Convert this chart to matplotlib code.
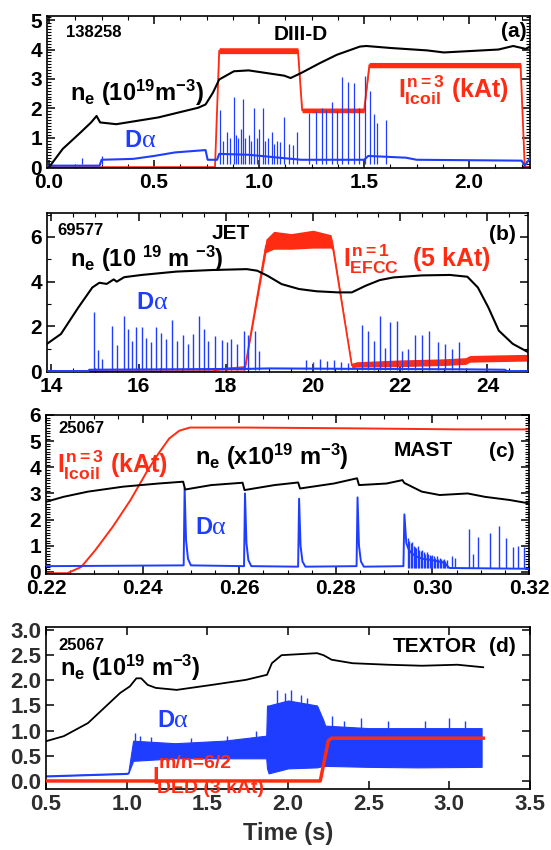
import matplotlib
matplotlib.use("Agg")
import matplotlib.pyplot as plt
from matplotlib.ticker import MultipleLocator

RED = "#ff2b12"
BLUE = "#1f3dff"
GREY = "#2e2e2e"

# ---- (a) DIII-D 138258 ----
a_ne_t = [0.0, 0.065, 0.15, 0.2, 0.226, 0.243, 0.32, 0.52, 0.71, 0.745, 0.78, 0.81, 0.88, 0.95,
          1.12, 1.15, 1.2, 1.29, 1.37, 1.48, 1.51, 1.63, 1.8, 1.88, 2.14, 2.21, 2.27, 2.29]
a_ne = [0.0, 0.62, 1.18, 1.52, 1.74, 1.52, 1.46, 1.69, 2.02, 2.13, 2.53, 2.98, 3.26, 3.29,
        3.11, 3.03, 3.2, 3.54, 3.82, 4.1, 4.12, 4.05, 3.97, 3.9, 4.0, 4.12, 4.02, 4.1]
a_coil_t = [-0.01, 0.79, 0.81, 1.185, 1.205, 1.5, 1.525, 2.245, 2.265, 2.29]
a_coil = [0.0, 0.0, 3.96, 3.96, 1.93, 1.93, 3.47, 3.47, 0.0, 0.0]
a_coil_w = [0.0, 0.0, 0.1, 0.1, 0.08, 0.08, 0.09, 0.09, 0.0, 0.0]
a_da_t = [-0.01, 0.24, 0.25, 0.4, 0.5, 0.6, 0.745, 0.755, 0.8, 0.81, 0.95, 1.2, 1.5, 1.52,
          1.7, 1.75, 2.25, 2.265, 2.29]
a_da = [0.05, 0.05, 0.25, 0.28, 0.38, 0.5, 0.58, 0.25, 0.25, 0.45, 0.42, 0.25, 0.25, 0.38,
        0.32, 0.25, 0.22, 0.05, 0.3]
a_elm_t = [0.155, 0.25, 0.813, 0.83, 0.847, 0.86, 0.88, 0.89, 0.90, 0.912, 0.923, 0.935,
           0.95, 0.962, 0.975, 0.988, 1.0, 1.017, 1.03, 1.04, 1.06, 1.072, 1.085, 1.10,
           1.12, 1.14, 1.16, 1.18, 1.238, 1.27, 1.298, 1.32, 1.349, 1.37, 1.396, 1.425,
           1.451, 1.476, 1.502, 1.527, 1.545, 1.56, 1.604]
a_elm_h = [0.32, 0.38, 1.95, 0.9, 1.2, 1.0, 2.4, 1.1, 1.0, 1.3, 2.3, 1.0,
           1.1, 0.9, 2.0, 1.0, 1.3, 2.0, 0.9, 1.0, 1.2, 0.8, 0.9, 0.85,
           1.7, 0.8, 0.75, 1.2, 1.85, 1.9, 2.0, 1.95, 2.2, 1.9, 3.05, 2.9,
           2.85, 2.0, 3.1, 2.6, 1.8, 1.5, 1.6]

# ---- (b) JET 69577 ----
b_ne_t = [13.9, 14.22, 14.62, 14.94, 15.1, 15.27, 15.43, 15.5, 15.67, 16.07, 16.87, 17.68,
          18.48, 18.72, 18.96, 19.28, 19.68, 20.08, 20.57, 20.89, 21.21, 21.53, 21.85, 22.5,
          23.14, 23.54, 23.78, 24.02, 24.26, 24.58, 24.93]
b_ne = [1.22, 1.66, 2.85, 3.74, 3.95, 3.9, 4.1, 4.0, 4.2, 4.3, 4.45, 4.52,
        4.56, 4.49, 4.26, 3.89, 3.67, 3.57, 3.52, 3.52, 3.82, 4.07, 4.19, 4.28,
        4.3, 4.22, 3.74, 2.85, 1.81, 1.22, 0.85]
b_efcc_t = [13.9, 17.7, 17.9, 18.44, 18.92, 19.1, 19.5, 20.0, 20.41, 20.45, 20.89, 21.0,
            22.0, 23.0, 23.5, 23.6, 24.93]
b_efcc = [0.0, 0.0, 0.1, 0.15, 5.6, 5.85, 5.8, 5.9, 5.8, 5.6, 0.25, 0.3,
          0.35, 0.4, 0.45, 0.55, 0.6]
b_efcc_w = [0.0, 0.0, 0.05, 0.1, 0.3, 0.4, 0.35, 0.4, 0.3, 0.2, 0.1, 0.12,
            0.15, 0.15, 0.15, 0.15, 0.15]
b_da_t = [13.9, 14.85, 14.87, 18.5, 19.0, 21.0, 23.4, 24.4, 24.45, 24.93]
b_da = [0.0, 0.0, 0.06, 0.1, 0.12, 0.1, 0.08, 0.06, 0.0, 0.0]
b_elm_t = [14.98, 15.08, 15.16, 15.39, 15.51, 15.67, 15.76, 15.84, 15.94, 16.07,
           16.17, 16.29, 16.39, 16.51, 16.63, 16.76, 16.87, 17.03, 17.14, 17.25,
           17.39, 17.5, 17.59, 17.76, 17.92, 18.02, 18.13, 18.25, 18.41, 18.52,
           18.66, 18.76, 19.84, 20.0, 20.17, 20.33, 20.49, 20.65, 20.81,
           21.13, 21.25, 21.41, 21.53, 21.65, 21.77, 21.93, 22.05, 22.17, 22.33,
           22.49, 22.67, 22.86, 23.02, 23.18, 23.34]
b_elm_h = [2.65, 0.95, 0.55, 2.0, 1.15, 2.45, 1.9, 1.35, 1.95, 1.95,
           1.5, 1.3, 1.95, 1.7, 1.45, 2.3, 1.35, 1.6, 1.2, 1.65,
           2.45, 1.9, 1.35, 1.55, 1.4, 1.3, 1.45, 1.2, 1.8, 1.6,
           1.8, 0.9, 0.5, 0.4, 0.55, 0.45, 0.5, 0.4, 0.35,
           2.05, 1.8, 1.35, 2.45, 1.05, 2.2, 2.25, 0.9, 1.0, 1.6,
           1.6, 1.8, 1.3, 1.2, 1.0, 1.3]

# ---- (c) MAST 25067 ----
c_ne_t = [0.22, 0.2236, 0.2287, 0.236, 0.2433, 0.2484, 0.2488, 0.2542, 0.2607, 0.2611,
          0.2673, 0.2722, 0.2726, 0.2796, 0.2844, 0.2848, 0.2905, 0.2938, 0.2942, 0.2978,
          0.3015, 0.3073, 0.3109, 0.316, 0.32]
c_ne = [2.68, 2.87, 3.07, 3.26, 3.38, 3.45, 3.15, 3.32, 3.41, 3.13,
        3.32, 3.42, 3.19, 3.38, 3.58, 3.32, 3.38, 3.51, 3.4, 3.07,
        2.94, 3.0, 2.87, 2.75, 2.62]
c_coil_t = [0.22, 0.2244, 0.2273, 0.2302, 0.2338, 0.2375, 0.2411, 0.2433, 0.2455, 0.2476,
            0.2498, 0.2615, 0.2833, 0.3051, 0.32]
c_coil = [-0.05, -0.05, 0.19, 0.83, 1.72, 2.75, 3.9, 4.53, 5.1, 5.4,
          5.52, 5.52, 5.49, 5.45, 5.45]
c_da_t = [0.22, 0.2485, 0.2487, 0.249, 0.2494, 0.25, 0.261, 0.2612, 0.2615, 0.2619, 0.2625,
          0.2722, 0.2724, 0.2727, 0.2731, 0.2737, 0.2843, 0.2845, 0.2848, 0.2852, 0.2858,
          0.294, 0.2942, 0.2946, 0.295, 0.2955, 0.2965, 0.298, 0.3, 0.3025, 0.3035, 0.32]
c_da = [0.22, 0.25, 3.2, 1.2, 0.5, 0.25, 0.22, 3.0, 1.1, 0.45, 0.22,
        0.2, 2.8, 1.0, 0.4, 0.2, 0.22, 2.85, 1.0, 0.4, 0.2,
        0.22, 2.2, 1.1, 0.9, 0.75, 0.6, 0.5, 0.45, 0.35, 0.15, 0.12]
c_burst_t = [0.2949, 0.2952, 0.2955, 0.2958, 0.2961, 0.2964, 0.2967, 0.297, 0.2973, 0.2976,
             0.2979, 0.2982, 0.2985, 0.2988, 0.2991, 0.2994, 0.2997, 0.3, 0.3003, 0.3006,
             0.3009, 0.3012, 0.3015, 0.3018, 0.3021, 0.3024, 0.3027, 0.303,
             0.304, 0.3047, 0.3076, 0.3084, 0.3095, 0.312, 0.3138, 0.3153, 0.3167, 0.3178,
             0.3189]
c_burst_h = [1.3, 1.2, 1.1, 1.15, 1.0, 0.95, 0.9, 1.0, 0.85, 0.8,
             0.85, 0.75, 0.7, 0.75, 0.7, 0.65, 0.6, 0.65, 0.6, 0.55,
             0.6, 0.5, 0.55, 0.5, 0.45, 0.5, 0.4, 0.45,
             0.6, 0.55, 1.65, 0.7, 1.35, 1.5, 1.75, 1.3, 0.95, 1.0,
             0.95]

# ---- (d) TEXTOR 25067 ----
d_ne_t = [0.5, 0.61, 0.76, 0.87, 0.96, 1.02, 1.06, 1.09, 1.13, 1.18, 1.31, 1.53, 1.74,
          1.87, 1.9, 1.96, 2.18, 2.22, 2.27, 2.4, 2.62, 2.83, 3.05, 3.21]
d_ne = [0.79, 0.89, 1.15, 1.48, 1.75, 1.88, 2.04, 2.04, 1.91, 1.85, 1.81, 1.91, 2.01,
        2.11, 2.34, 2.5, 2.54, 2.5, 2.41, 2.34, 2.31, 2.29, 2.31, 2.26]
d_da_t = [0.5, 1.0, 1.01, 1.04, 1.3, 1.6, 1.865, 1.87, 1.88, 2.0, 2.18, 2.22, 2.23, 2.5,
          2.8, 3.2]
d_da_lo = [0.09, 0.14, 0.15, 0.4, 0.45, 0.45, 0.45, 0.25, 0.15, 0.25, 0.27, 0.3, 0.3,
           0.28, 0.27, 0.28]
d_da_hi = [0.11, 0.16, 0.17, 0.8, 0.75, 0.8, 0.9, 1.5, 1.5, 1.6, 1.5, 1.2, 1.1, 1.05,
           1.05, 1.05]
d_spk_t = [1.05, 1.08, 1.15, 1.4, 1.62, 1.8, 1.93, 1.98, 2.02, 2.08, 2.12, 2.27, 2.35,
           2.45, 2.62, 2.85, 3.0, 3.1]
d_spk_h = [0.95, 0.9, 0.88, 0.85, 0.9, 1.0, 1.8, 1.75, 1.8, 1.7, 1.65, 1.3, 1.2,
           1.25, 1.2, 1.2, 1.25, 1.2]
d_ded_t = [0.5, 2.2, 2.25, 2.27, 3.21]
d_ded = [0.0, 0.0, 0.8, 0.85, 0.85]

plt.rcParams["font.family"] = ["Liberation Sans", "DejaVu Sans"]
plt.rcParams["font.weight"] = "bold"
plt.rcParams["mathtext.fontset"] = "custom"
for key in ["rm", "it", "bf", "sf"]:
    plt.rcParams["mathtext." + key] = "Liberation Sans:bold"

W, H = 551, 850
fig = plt.figure(figsize=(W / 100, H / 100), dpi=100)


def add_panel(l, t, r, b, xlim, ylim, xmaj, xmin, ymaj, ymin):
    ax = fig.add_axes([l / W, 1 - b / H, (r - l) / W, (b - t) / H])
    ax.set_xlim(*xlim)
    ax.set_ylim(*ylim)
    ax.xaxis.set_major_locator(MultipleLocator(xmaj))
    ax.yaxis.set_major_locator(MultipleLocator(ymaj))
    if xmin:
        ax.xaxis.set_minor_locator(MultipleLocator(xmin))
    if ymin:
        ax.yaxis.set_minor_locator(MultipleLocator(ymin))
    ax.tick_params(which="both", direction="in", top=True, right=True, labelsize=15, pad=3.5)
    ax.tick_params(which="major", length=6, width=1.1)
    ax.tick_params(which="minor", length=3, width=0.8)
    for lab in ax.get_xticklabels() + ax.get_yticklabels():
        lab.set_fontweight("heavy")
    for s in ax.spines.values():
        s.set_linewidth(1.2)
    return ax


def d_alpha(ax, x, y, size):
    d = ax.text(x, y, "D", color=BLUE, fontsize=size, fontweight="bold", va="bottom")
    ax.annotate("α", xy=(1, 0), xycoords=d, va="bottom", color=BLUE,
                fontsize=size * 1.1, family="Liberation Serif", fontweight="normal")


# panel (a)
ax = add_panel(47, 16, 530, 168, (-0.01, 2.29), (-0.03, 5.14), 0.5, 0.125, 1, 0.1)
ax.fill_between(a_coil_t, [c - w for c, w in zip(a_coil, a_coil_w)],
                [c + w for c, w in zip(a_coil, a_coil_w)], color=RED, lw=0, zorder=2)
ax.plot(a_coil_t, a_coil, color=RED, lw=1.3, zorder=2)
ax.vlines(a_elm_t, 0.1, a_elm_h, color=BLUE, lw=0.9, zorder=3)
ax.plot(a_da_t, a_da, color=BLUE, lw=1.5, zorder=3)
ax.plot(a_ne_t, a_ne, color="black", lw=1.5, zorder=4)
ax.text(0.08, 4.58, "138258", fontsize=12, va="center")
ax.text(1.07, 4.52, "DIII-D", fontsize=15, va="center")
ax.text(2.275, 4.6, "(a)", fontsize=15, va="center", ha="right")
ax.text(0.1, 2.25, r"n$_e$ (10$^{19}$m$^{-3}$)", fontsize=17, va="baseline")
d_alpha(ax, 0.36, 0.5, 17)
ax.text(1.66, 2.36, r"$I^{n=3}_{Icoil}$ (kAt)", color=RED, fontsize=18, va="baseline")

# panel (b)
ax = add_panel(47, 213, 528, 372, (13.9, 24.93), (-0.04, 7.07), 2, 0.5, 2, 1)
ax.fill_between(b_efcc_t, [c - w for c, w in zip(b_efcc, b_efcc_w)],
                [c + w for c, w in zip(b_efcc, b_efcc_w)], color=RED, lw=0, zorder=2)
ax.plot(b_efcc_t, b_efcc, color=RED, lw=1.2, zorder=2)
ax.vlines(b_elm_t, 0.05, b_elm_h, color=BLUE, lw=1.0, zorder=3)
ax.plot(b_da_t, b_da, color=BLUE, lw=1.5, zorder=3)
ax.plot(b_ne_t, b_ne, color="black", lw=1.5, zorder=4)
ax.text(14.14, 6.3, "69577", fontsize=12, va="center")
ax.text(17.68, 6.15, "JET", fontsize=15, va="center")
ax.text(24.66, 6.12, "(b)", fontsize=15, va="center", ha="right")
ax.text(14.42, 4.64, r"n$_e$ (10 $^{19}$ m $^{-3}$)", fontsize=17, va="baseline")
d_alpha(ax, 15.95, 2.55, 17)
ax.text(20.69, 4.64, r"$I^{n=1}_{EFCC}$  (5 kAt)", color=RED, fontsize=18, va="baseline")

# panel (c)
ax = add_panel(46, 415, 529, 574, (0.22, 0.32), (-0.08, 6.0), 0.02, 0.005, 1, 0.1)
ax.plot(c_coil_t, c_coil, color=RED, lw=1.4, zorder=2)
ax.vlines(c_burst_t, 0.15, c_burst_h, color=BLUE, lw=1.0, zorder=3)
ax.plot(c_da_t, c_da, color=BLUE, lw=1.4, zorder=3)
ax.plot(c_ne_t, c_ne, color="black", lw=1.4, zorder=4)
ax.text(0.2225, 5.5, "25067", fontsize=12, va="center")
ax.text(0.2222, 3.77, r"$I^{n=3}_{Icoil}$ (kAt)", color=RED, fontsize=18, va="baseline")
ax.text(0.2509, 4.09, r"n$_e$ (x10$^{19}$ m$^{-3}$)", fontsize=17, va="baseline")
ax.text(0.292, 4.63, "MAST", fontsize=15, va="center")
ax.text(0.3171, 4.6, "(c)", fontsize=15, va="center", ha="right")
d_alpha(ax, 0.2509, 1.25, 17)

# panel (d)
ax = add_panel(46, 627, 530, 789, (0.5, 3.5), (-0.16, 3.06), 0.5, None, 0.5, None)
ax.tick_params(labelcolor=GREY, labelsize=16)
ax.fill_between(d_da_t, d_da_lo, d_da_hi, color=BLUE, lw=0.8, zorder=2)
ax.vlines(d_spk_t, 0.5, d_spk_h, color=BLUE, lw=1.0, zorder=2)
ax.plot(d_ded_t, d_ded, color=RED, lw=2.5, zorder=3)
ax.plot(d_ne_t, d_ne, color="black", lw=1.3, zorder=4)
ax.text(0.576, 2.7, "25067", fontsize=12, va="center")
ax.text(0.587, 2.08, r"n$_e$ (10$^{19}$ m$^{-3}$)", fontsize=17, va="baseline")
ax.text(2.65, 2.68, "TEXTOR", fontsize=15, va="center")
ax.text(3.41, 2.68, "(d)", fontsize=15, va="center", ha="right")
d_alpha(ax, 1.19, 0.98, 17)
ax.text(1.16, -0.07, "I", color=RED, fontsize=17, va="baseline", zorder=5)
ax.text(1.2, 0.25, "m/n=6/2", color=RED, fontsize=14, va="baseline", zorder=5)
ax.text(1.19, -0.24, "DED (3 kAt)", color=RED, fontsize=14, va="baseline", zorder=5)
ax.set_xlabel("Time (s)", fontsize=17, color=GREY, labelpad=5, fontweight="bold")

fig.savefig("out.png", dpi=100)
